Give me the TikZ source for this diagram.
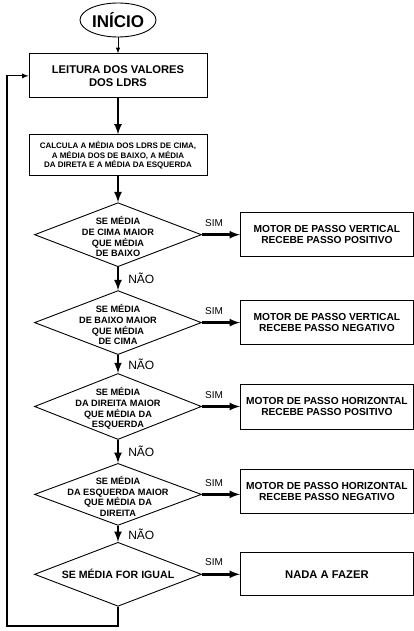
\documentclass[tikz,border=0pt]{standalone}
\usepackage{fontspec}
\setmainfont{Liberation Sans}
\usetikzlibrary{shapes,arrows,positioning}

\begin{document}
\begin{tikzpicture}[
    x=1pt, y=1pt,
    startnode/.style={ellipse, draw, line width=0.9pt, minimum width=76pt, minimum height=34pt, inner sep=0pt, font=\fontsize{17}{20}\selectfont\bfseries},
    box/.style={rectangle, draw, line width=0.9pt, minimum width=178pt, align=center, inner sep=0pt},
    action/.style={rectangle, draw, line width=0.9pt, minimum width=173pt, minimum height=44pt, align=center, inner sep=0pt, font=\fontsize{10.2}{10.5}\selectfont\bfseries},
    decision/.style={diamond, draw, line width=0.9pt, minimum width=167pt, minimum height=64pt, inner sep=0pt},
    dtext/.style={align=center, inner sep=0pt, yshift=-2pt, font=\fontsize{9.2}{10.8}\selectfont\bfseries},
    arrow/.style={-latex, line width=2.5pt},
    thinarrow/.style={-latex, line width=1pt},
    sim/.style={pos=0, anchor=south west, inner sep=2pt, yshift=5pt, font=\fontsize{10}{12}\selectfont},
    nao/.style={midway, anchor=west, inner sep=2pt, xshift=7pt, font=\fontsize{12}{14}\selectfont}
]
\useasboundingbox (0,0) rectangle (414,-631);

\node[startnode] (inicio) at (118,-20) {INÍCIO};
\node[box, minimum height=44pt, below=16pt of inicio, font=\fontsize{11.2}{13.3}\selectfont\bfseries] (leitura) {LEITURA DOS VALORES\\DOS LDRS};
\node[box, minimum height=41pt, below=36pt of leitura, font=\fontsize{8}{9.2}\selectfont\bfseries] (calcula) {CALCULA A MÉDIA DOS LDRS DE CIMA,\\A MÉDIA DOS DE BAIXO, A MÉDIA\\DA DIRETA E A MÉDIA DA ESQUERDA};

% decisoes
\node[decision, below=26pt of calcula] (cima) {};
\node[dtext] (cimatxt) at (cima) {SE MÉDIA\\DE CIMA MAIOR\\QUE MÉDIA\\DE BAIXO};
\node[decision, below=23pt of cima] (baixo) {};
\node[dtext] (baixotxt) at (baixo) {SE MÉDIA\\DE BAIXO MAIOR\\QUE MÉDIA\\DE CIMA};
\node[decision, minimum height=66pt, below=18pt of baixo] (direita) {};
\node[dtext] (direitatxt) at (direita) {SE MÉDIA\\DA DIREITA MAIOR\\QUE MÉDIA DA\\ESQUERDA};
\node[decision, minimum height=62pt, below=23pt of direita] (esquerda) {};
\node[dtext] (esquerdatxt) at (esquerda) {SE MÉDIA\\DA ESQUERDA MAIOR\\QUE MÉDIA DA\\DIREITA};
\node[decision, below=16pt of esquerda] (igual) {};
\node[dtext, yshift=2pt, font=\fontsize{10.6}{12}\selectfont\bfseries] (igualtxt) at (igual) {SE MÉDIA FOR IGUAL};

% acoes
\node[action, right=38pt of cima] (vpos) {MOTOR DE PASSO VERTICAL\\RECEBE PASSO POSITIVO};
\node[action, right=38pt of baixo] (vneg) {MOTOR DE PASSO VERTICAL\\RECEBE PASSO NEGATIVO};
\node[action, minimum height=45pt, right=38pt of direita] (hpos) {MOTOR DE PASSO HORIZONTAL\\RECEBE PASSO POSITIVO};
\node[action, right=38pt of esquerda, yshift=3pt] (hneg) {MOTOR DE PASSO HORIZONTAL\\RECEBE PASSO NEGATIVO};
\node[action, minimum height=43pt, right=38pt of igual, font=\fontsize{11.2}{13}\selectfont\bfseries] (nada) {NADA A FAZER};

\coordinate (volta) at (7,-626);

\draw[thinarrow] (inicio) -- (leitura);
\draw[arrow] (leitura) -- (calcula);
\draw[arrow] (calcula) -- (cima);
\draw[arrow] (cima) -- node[nao] {NÃO} (baixo);
\draw[arrow] (baixo) -- node[nao] {NÃO} (direita);
\draw[arrow] (direita) -- node[nao] {NÃO} (esquerda);
\draw[arrow] (esquerda) -- node[nao] {NÃO} (igual);
\draw[arrow] (cima) -- node[sim] {SIM} (vpos);
\draw[arrow] (baixo) -- node[sim] {SIM} (vneg);
\draw[arrow] (direita) -- node[sim] {SIM} (hpos);
\draw[arrow] (esquerda.east) -- node[sim] {SIM} (esquerda.east -| hneg.west);
\draw[arrow] (igual) -- node[sim] {SIM} (nada);
\draw[thinarrow, line width=1.2pt] (igual.south) |- (volta) |- (leitura.west);
\end{tikzpicture}
\end{document}
